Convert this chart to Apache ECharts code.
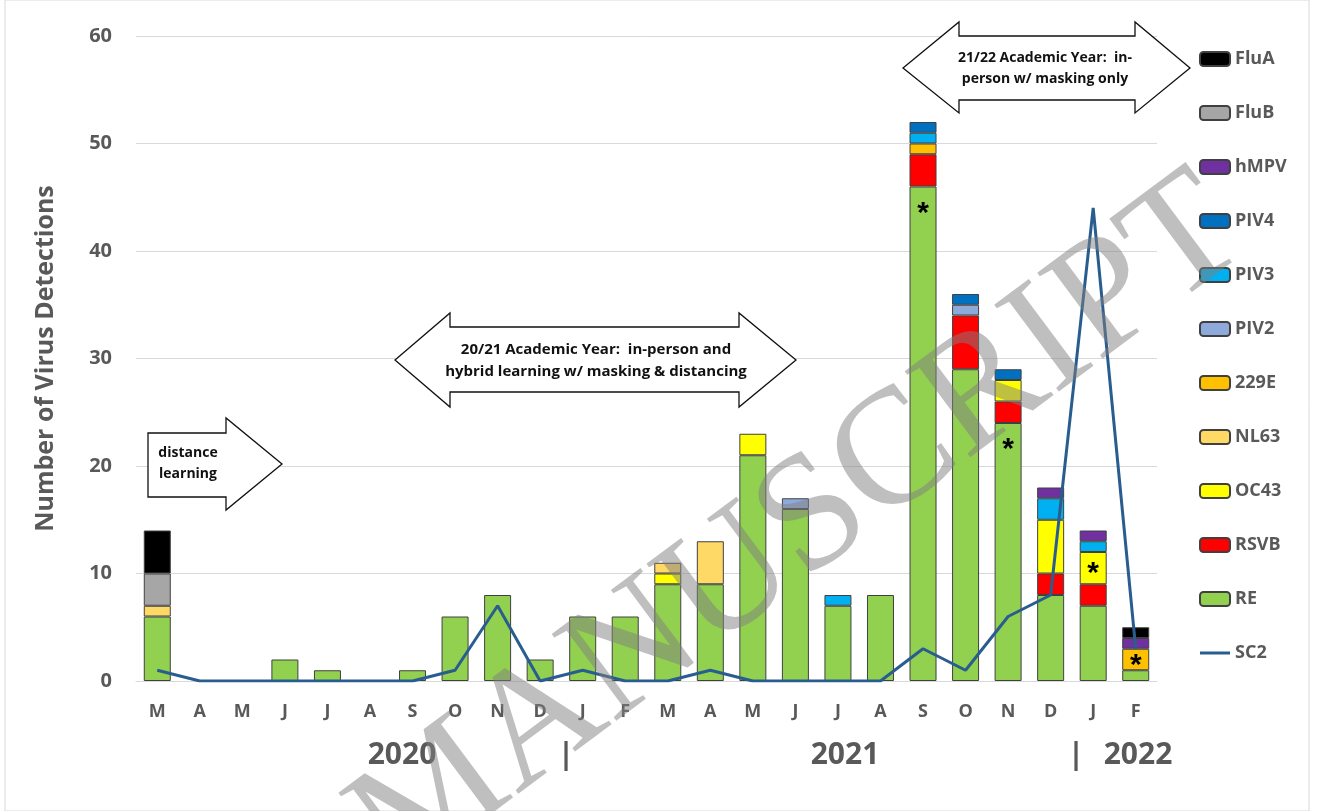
<!DOCTYPE html>
<html>
<head>
<meta charset="utf-8">
<script src="https://cdn.jsdelivr.net/npm/echarts@6/dist/echarts.min.js"></script>
<style>
  html, body { margin: 0; padding: 0; background: #fff; }
  #chart { width: 1319px; height: 811px; }
</style>
</head>
<body>
<div id="chart"></div>
<script>
// months Mar 2020 .. Feb 2022
const months = ['M','A','M','J','J','A','S','O','N','D','J','F','M','A','M','J','J','A','S','O','N','D','J','F'];

// stacked detections per virus (bottom to top)
const RE   = [6,0,0,2,1,0,1,6,8,2,6,6,9,9,21,16,7,8,46,29,24,8,7,1];
const RSVB = [0,0,0,0,0,0,0,0,0,0,0,0,0,0,0,0,0,0,3,5,2,2,2,0];
const OC43 = [0,0,0,0,0,0,0,0,0,0,0,0,1,0,2,0,0,0,0,0,2,5,3,0];
const NL63 = [1,0,0,0,0,0,0,0,0,0,0,0,1,4,0,0,0,0,0,0,0,0,0,0];
const E229 = [0,0,0,0,0,0,0,0,0,0,0,0,0,0,0,0,0,0,1,0,0,0,0,2];
const PIV2 = [0,0,0,0,0,0,0,0,0,0,0,0,0,0,0,1,0,0,0,1,0,0,0,0];
const PIV3 = [0,0,0,0,0,0,0,0,0,0,0,0,0,0,0,0,1,0,1,0,0,2,1,0];
const PIV4 = [0,0,0,0,0,0,0,0,0,0,0,0,0,0,0,0,0,0,1,1,1,0,0,0];
const hMPV = [0,0,0,0,0,0,0,0,0,0,0,0,0,0,0,0,0,0,0,0,0,1,1,1];
const FluB = [3,0,0,0,0,0,0,0,0,0,0,0,0,0,0,0,0,0,0,0,0,0,0,0];
const FluA = [4,0,0,0,0,0,0,0,0,0,0,0,0,0,0,0,0,0,0,0,0,0,0,1];
// SARS-CoV-2 line
const SC2  = [1,0,0,0,0,0,0,1,7,0,1,0,0,1,0,0,0,0,3,1,6,8,44,3];

const yTicks = { min: 0, max: 60, interval: 10 };

// segments marked with an asterisk: [series, month index]
const stars = [['RE',18],['RE',20],['OC43',22],['229E',23]];

const barSeries = [
  ['RE', RE, '#92d050'],
  ['RSVB', RSVB, '#ff0000'],
  ['OC43', OC43, '#ffff00'],
  ['NL63', NL63, '#ffd966'],
  ['229E', E229, '#ffc000'],
  ['PIV2', PIV2, '#8eaadb'],
  ['PIV3', PIV3, '#00b0f0'],
  ['PIV4', PIV4, '#0070c0'],
  ['hMPV', hMPV, '#7030a0'],
  ['FluB', FluB, '#a6a6a6'],
  ['FluA', FluA, '#000000']
];

const gray = '#595959';
const lineColor = '#2a5d8f';
const chart = echarts.init(document.getElementById('chart'));

const series = barSeries.map(([name, vals, color]) => ({
  name: name,
  type: 'bar',
  stack: 'v',
  barWidth: 27,
  itemStyle: { color: color, borderColor: '#404040', borderWidth: 1 },
  data: vals.map((v, i) => {
    const star = stars.find(s => s[0] === name && s[1] === i);
    if (!v) return '-';
    if (!star) return v;
    return {
      value: v,
      label: {
        show: true, formatter: '*', color: '#000', fontSize: 30, fontWeight: 'bold',
        position: name === 'RE' ? 'insideTop' : 'inside', distance: 6, offset: [0, 6]
      }
    };
  })
}));

series.push({
  name: 'SC2',
  type: 'line',
  symbol: 'none',
  z: 5,
  lineStyle: { color: lineColor, width: 3 },
  itemStyle: { color: lineColor },
  data: SC2
});

function arrowText(x, y, text, size) {
  return {
    type: 'text', x: x, y: y, z: 20,
    style: { text: text, fill: '#111', font: 'bold ' + size + 'px "Open Sans"', align: 'center', verticalAlign: 'middle', lineHeight: size + 7 }
  };
}
const arrowStyle = { fill: '#fff', stroke: '#111', lineWidth: 1.3 };

const legendNames = ['FluA','FluB','hMPV','PIV4','PIV3','PIV2','229E','NL63','OC43','RSVB','RE'];

const option = {
  backgroundColor: '#fff',
  animation: false,
  grid: { left: 136, right: 162, top: 36, bottom: 130 },
  legend: {
    orient: 'vertical',
    left: 1194,
    top: 45,
    itemWidth: 30,
    itemHeight: 14,
    itemGap: 36,
    data: legendNames.map(n => ({ name: n })).concat([
      { name: 'SC2', icon: 'path://M0,0 M30,14 M0,5.5 L30,5.5 L30,8.5 L0,8.5 Z' }
    ]),
    textStyle: { color: gray, fontSize: 18, fontWeight: 'bold', fontFamily: 'Open Sans' }
  },
  xAxis: {
    type: 'category',
    data: months,
    axisLine: { lineStyle: { color: '#d9d9d9' } },
    axisTick: { show: false },
    axisLabel: { color: gray, fontSize: 18, fontWeight: 'bold', fontFamily: 'Open Sans', margin: 22, interval: 0 }
  },
  yAxis: {
    type: 'value',
    min: yTicks.min, max: yTicks.max, interval: yTicks.interval,
    name: 'Number of Virus Detections',
    nameLocation: 'middle',
    nameGap: 78,
    nameTextStyle: { color: gray, fontSize: 25, fontWeight: 'bold', fontFamily: 'Open Sans' },
    axisLabel: { color: gray, fontSize: 20, fontWeight: 'bold', fontFamily: 'Open Sans', margin: 24 },
    splitLine: { lineStyle: { color: '#d9d9d9' } }
  },
  series: series,
  graphic: [
    { type: 'rect', shape: { x: 5, y: 0, width: 1304, height: 811 }, style: { fill: 'none', stroke: '#d9d9d9', lineWidth: 1 }, silent: true },
    // year labels
    { type: 'text', x: 402, y: 755, style: { text: '2020', fill: gray, font: 'bold 30px "Open Sans"', align: 'center', verticalAlign: 'middle' } },
    { type: 'text', x: 566, y: 755, style: { text: '|', fill: gray, font: 'bold 30px "Open Sans"', align: 'center', verticalAlign: 'middle' } },
    { type: 'text', x: 845, y: 755, style: { text: '2021', fill: gray, font: 'bold 30px "Open Sans"', align: 'center', verticalAlign: 'middle' } },
    { type: 'text', x: 1076, y: 755, style: { text: '|', fill: gray, font: 'bold 30px "Open Sans"', align: 'center', verticalAlign: 'middle' } },
    { type: 'text', x: 1138, y: 755, style: { text: '2022', fill: gray, font: 'bold 30px "Open Sans"', align: 'center', verticalAlign: 'middle' } },
    // distance learning arrow
    { type: 'polygon', z: 19, shape: { points: [[148,433],[226,433],[226,418],[282,464],[226,510],[226,497],[148,497]] }, style: arrowStyle },
    arrowText(188, 464, 'distance\nlearning', 14),
    // 20/21 arrow
    { type: 'polygon', z: 19, shape: { points: [[395,360],[450,313],[450,327],[739,327],[739,313],[796,360],[739,407],[739,392],[450,392],[450,407]] }, style: arrowStyle },
    arrowText(596, 361, '20/21 Academic Year:  in-person and\nhybrid learning w/ masking & distancing', 15),
    // 21/22 arrow
    { type: 'polygon', z: 19, shape: { points: [[903,68],[959,22],[959,36],[1135,36],[1135,22],[1190,68],[1135,113],[1135,100],[959,100],[959,113]] }, style: arrowStyle },
    arrowText(1045, 69, '21/22 Academic Year:  in-\nperson w/ masking only', 14),
    // watermark
    { type: 'text', x: 800, y: 530, rotation: 0.64, z: 50, silent: true,
      style: { text: 'MANUSCRIPT', fill: 'rgba(128,128,128,0.5)', font: '165px "Liberation Serif"', align: 'center', verticalAlign: 'middle' } }
  ]
};

chart.setOption(option);
</script>
</body>
</html>
